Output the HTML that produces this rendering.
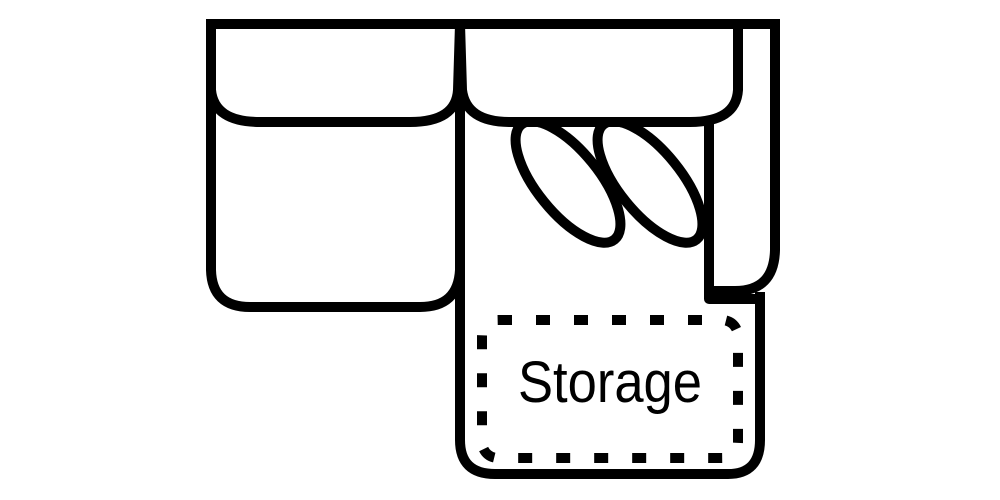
<!DOCTYPE html>
<html><head><style>html,body{margin:0;padding:0;background:#fff;}svg{display:block;}</style></head>
<body>
<svg width="1000" height="500" viewBox="0 0 1000 500" xmlns="http://www.w3.org/2000/svg">
<g fill="none" stroke="#000" stroke-width="10" stroke-linejoin="round">
  <!-- pillows -->
  <g fill="#fff">
    <ellipse cx="0" cy="0" rx="74" ry="31" transform="translate(568,182) rotate(51)"/>
    <ellipse cx="0" cy="0" rx="74" ry="31" transform="translate(650,182) rotate(51)"/>
  </g>
  <!-- cover right of inner arm line -->
  <rect x="714" y="120" width="56" height="170" fill="#fff" stroke="none"/>
  <!-- left cushion back -->
  <path d="M211 24 L211 90 Q214 122 260 122 L410 122 Q456 122 458 90 L460 24" fill="#fff"/>
  <!-- middle back cushion -->
  <path d="M460 24 L462 90 Q466 122 510 122 L690 122 Q736 122 738 90 L738 24" fill="#fff"/>
  <!-- outer top line -->
  <path d="M211 24 L775 24" stroke-linecap="square"/>
  <!-- left seat -->
  <path d="M211 90 L211 270 Q212 307 250 307 L420 307 Q458 307 460 270"/>
  <!-- divider -->
  <path d="M460 24 L460 440"/>
  <!-- arm -->
  <path d="M775 24 L775 250 Q774 291 735 291 L709 291 L709 122"/>
  <path d="M709 291 L709 299 L760 299"/>
  <!-- chaise -->
  <path d="M460 440 Q460 474 495 474 L728 474 Q760 474 760 440 L760 292"/>
  <!-- dashed storage box -->
  <rect x="482" y="320" width="256" height="138" rx="16" stroke-width="10" stroke-dasharray="14 24"/>
</g>
<text x="610" y="402" font-family="Liberation Sans, sans-serif" font-size="58" text-anchor="middle" textLength="184" lengthAdjust="spacingAndGlyphs">Storage</text>
</svg>
</body></html>
